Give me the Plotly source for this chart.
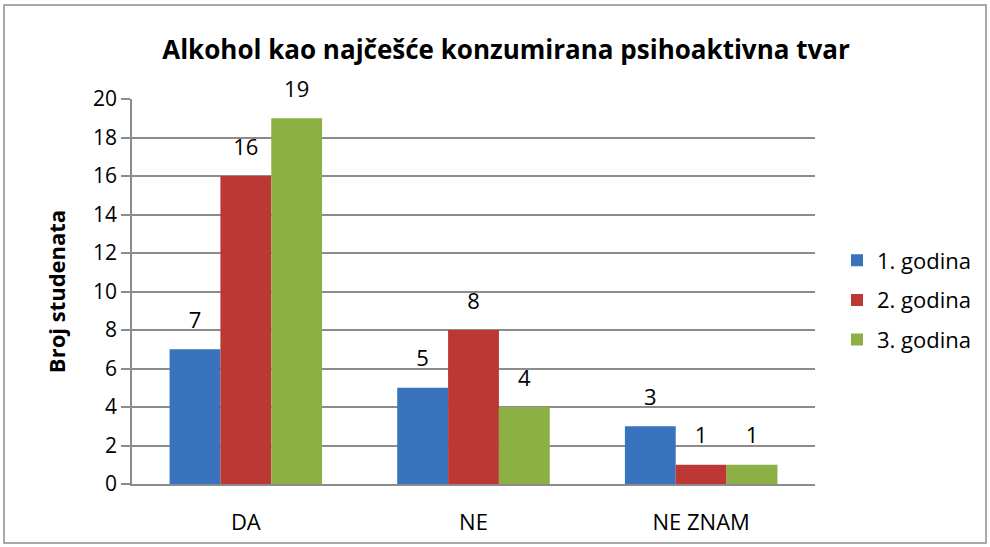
import plotly.graph_objects as go

categories = ["DA", "NE", "NE ZNAM"]
series_names = ["1. godina", "2. godina", "3. godina"]
god1 = [7, 5, 3]
god2 = [16, 8, 1]
god3 = [19, 4, 1]
y_ticks = [0, 2, 4, 6, 8, 10, 12, 14, 16, 18, 20]

colors = ["#3A73BD", "#BC3835", "#8CB043"]
values = [god1, god2, god3]

FONT = "Open Sans, sans-serif"

fig = go.Figure()
for name, vals, col in zip(series_names, values, colors):
    fig.add_trace(go.Bar(
        x=categories, y=vals, name=name, legendgroup=name,
        offsetgroup=name, alignmentgroup="a",
        marker=dict(color=col, line=dict(width=0)),
        hoverinfo="x+y+name",
    ))
for name, vals in zip(series_names, values):
    fig.add_trace(go.Scatter(
        x=categories, y=vals, mode="markers+text", name=name, legendgroup=name,
        offsetgroup=name, alignmentgroup="a", showlegend=False,
        marker=dict(size=24, opacity=0),
        text=[str(v) for v in vals], textposition="top center",
        textfont=dict(size=22, color="#000000", family=FONT),
        cliponaxis=False, hoverinfo="skip",
    ))

L, R, T, B = 132, 175, 99, 63
W, H = 990, 547
pw, ph = W - L - R, H - T - B

fig.update_layout(
    width=W, height=H,
    margin=dict(l=L, r=R, t=T, b=B, autoexpand=False),
    paper_bgcolor="white", plot_bgcolor="white",
    barmode="group", bargap=0.33, bargroupgap=0,
    scattermode="group", scattergap=0.33,
    title=dict(text="<b>Alkohol kao najčešće konzumirana psihoaktivna tvar</b>",
               x=506 / W, xanchor="center", y=1 - 50 / H, yanchor="middle",
               font=dict(size=26, color="#000000", family=FONT)),
    font=dict(family=FONT, color="#000000"),
    legend=dict(x=(837 - L) / pw, xanchor="left", y=(H - B - 300) / ph, yanchor="middle",
                font=dict(size=22, color="#000000", family=FONT),
                tracegroupgap=8, bgcolor="rgba(0,0,0,0)"),
    xaxis=dict(showgrid=False, showline=True, linecolor="#8C8C8C", linewidth=1.5,
               ticks="", tickfont=dict(size=22, color="#000000"), ticklabelstandoff=18,
               automargin=False),
    yaxis=dict(range=[0, 20], tickvals=y_ticks, showgrid=True, gridcolor="#8C8C8C",
               gridwidth=1.5, showline=True, linecolor="#8C8C8C", linewidth=1.5,
               ticks="outside", ticklen=9, tickcolor="#8C8C8C", tickwidth=1.5,
               tickfont=dict(size=21, color="#000000"),
               title=dict(text="<b>Broj studenata</b>", font=dict(size=22, color="#000000"),
                          standoff=21),
               zeroline=False, automargin=False),
    shapes=[dict(type="rect", xref="paper", yref="paper",
                 x0=(4 - L) / pw, x1=(986 - L) / pw,
                 y0=(H - B - 543) / ph, y1=(H - B - 5) / ph,
                 line=dict(color="#8C8C8C", width=1.5), fillcolor="rgba(0,0,0,0)",
                 layer="below")],
)

fig.write_html("out.html", post_script="document.body.style.margin='0';",
               config={"displayModeBar": False})
